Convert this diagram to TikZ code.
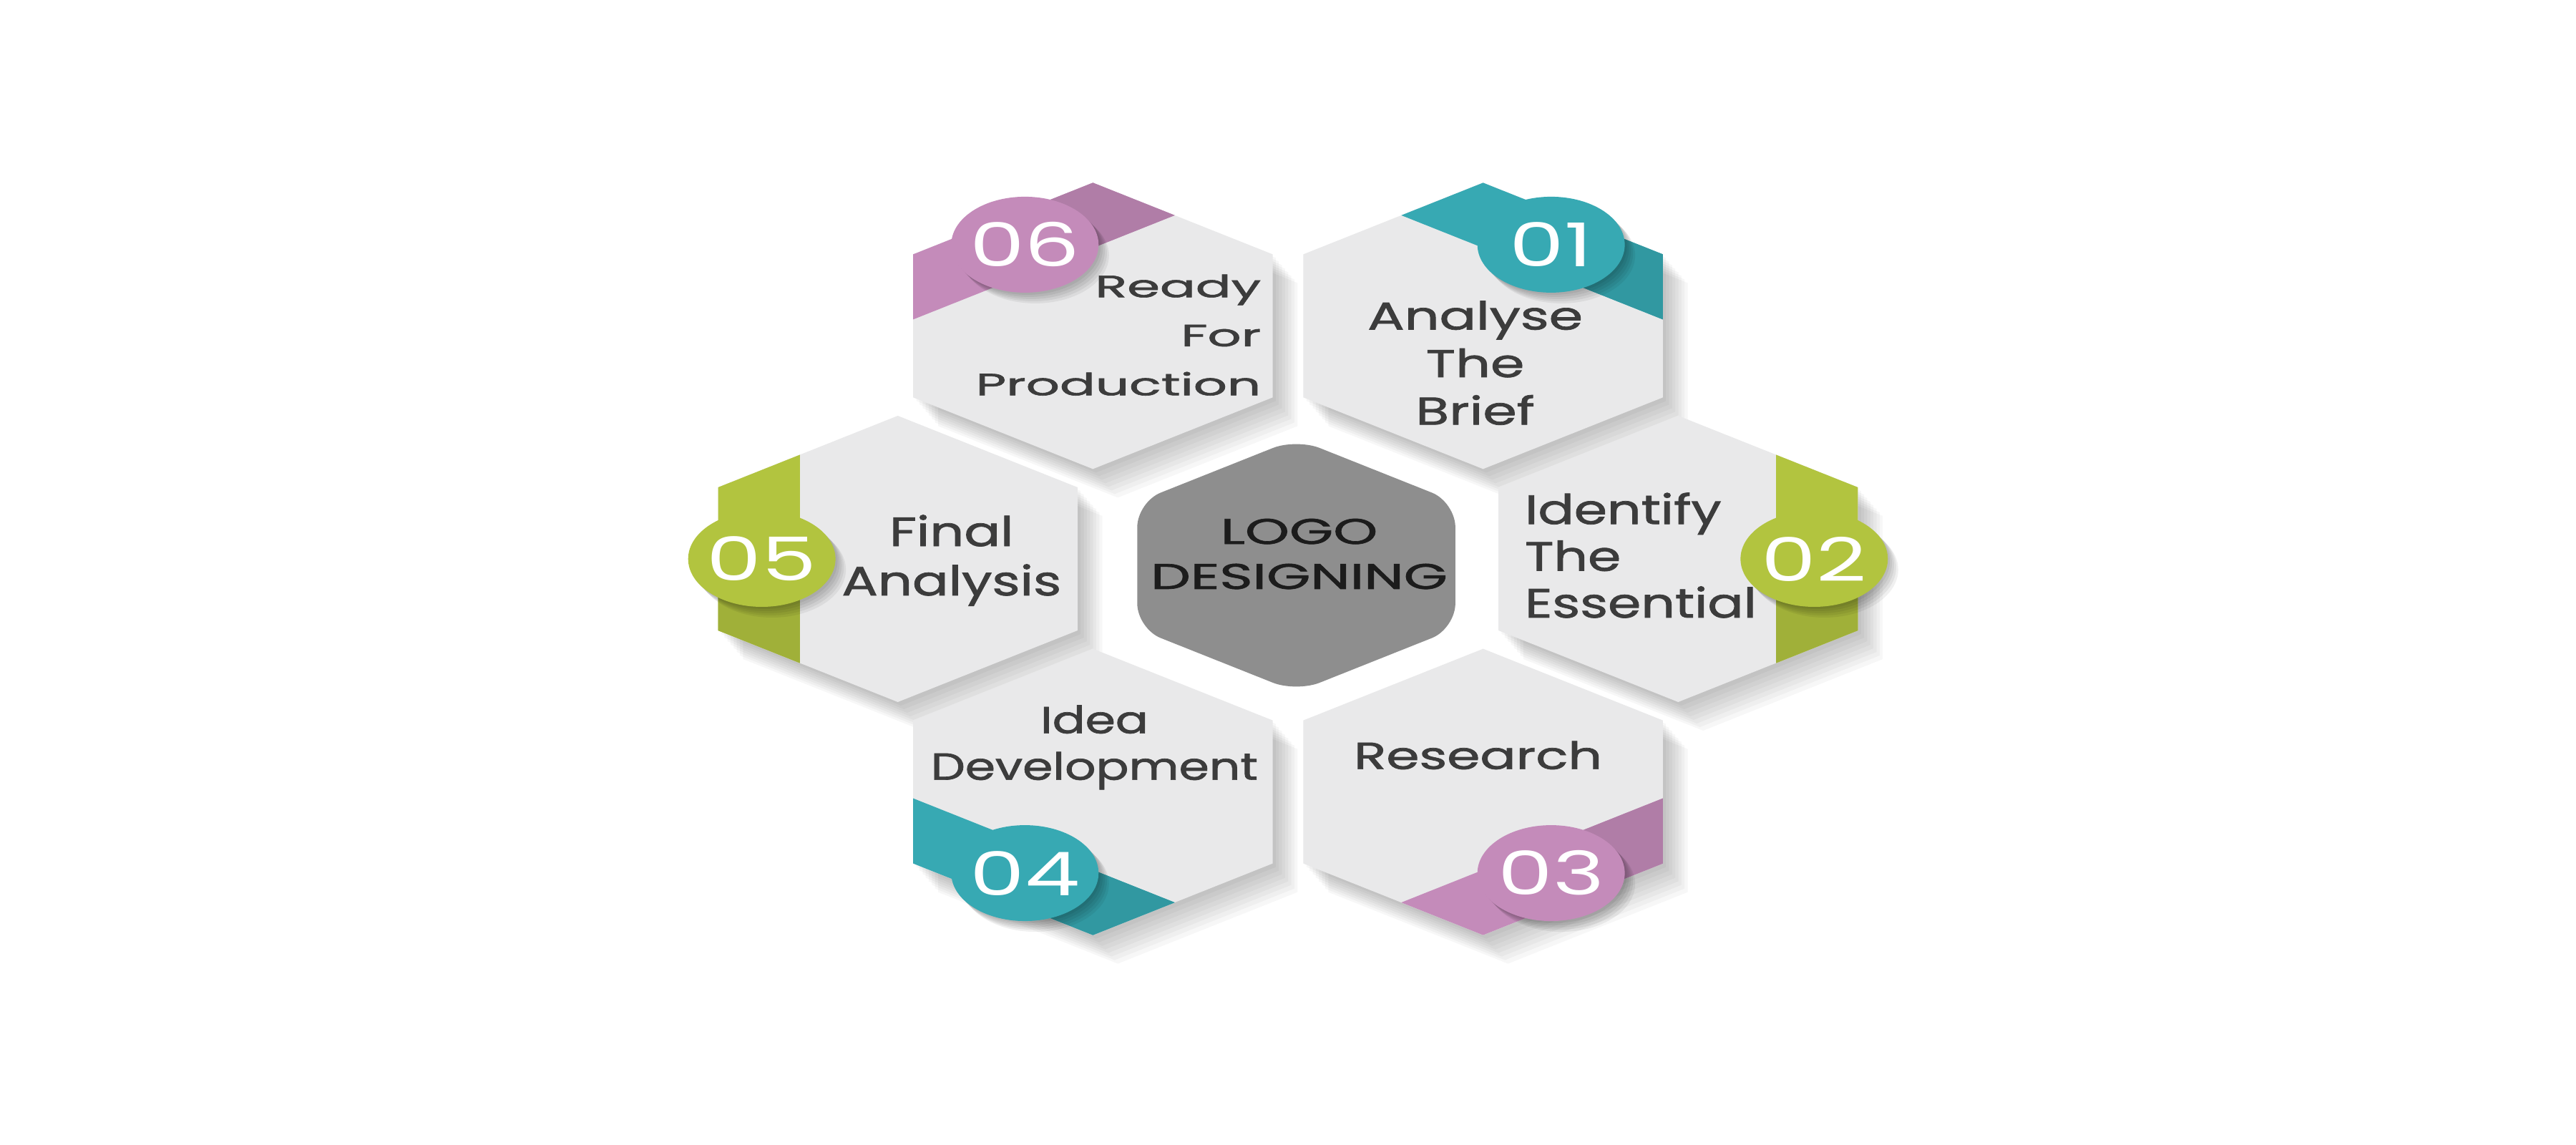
\documentclass[tikz,border=0pt]{standalone}
\usepackage{fontspec}
\setmainfont{Poppins}
\newfontfamily\labelfont{Poppins}[RawFeature={embolden=1.3}]
\usepackage{tikz}
\usetikzlibrary{calc}

\definecolor{facegray}{HTML}{E9E9EA}
\definecolor{coregray}{HTML}{8E8E8E}
\definecolor{tealtab}{HTML}{37A9B3}
\definecolor{greentab}{HTML}{B2C43F}
\definecolor{pinktab}{HTML}{C48BBA}
\definecolor{labelgray}{HTML}{3C3C3C}
\definecolor{coretext}{HTML}{1C1C1C}

\newcommand{\hexpath}[2]{(#1) +(90:#2) -- +(150:#2) -- +(210:#2) -- +(270:#2) -- +(330:#2) -- +(30:#2) -- cycle}

\begin{document}
\begin{tikzpicture}[
    softshade/.style={fill=black, opacity=0.03},
    steplabel/.style={text=labelgray, inner sep=0pt, xscale=#1},
    stepnumber/.style={text=white, inner sep=0pt, xscale=1.45, font=\fontsize{24}{24}\selectfont}]
\fill[white] (-18,7.81) rectangle (18,-8.19);
\useasboundingbox (-18,7.81) rectangle (18,-8.19);
\begin{scope}[xscale=1.45]
  \coordinate (core) at (0.08,-0.09);
  \foreach \nm/\ang in {h1/60, h2/0, h3/300, h4/240, h5/180, h6/120}{
    \coordinate (\nm) at (\ang:3.76);
    \coordinate (c\nm) at ($(\nm)+(\ang:1.31)$);
  }
  \foreach \nm in {h1,h2,h3,h4,h5,h6}
    \foreach \k in {1,...,8}
      \fill[softshade] \hexpath{$(\nm)+(0.03*\k,-0.05*\k)$}{2};
  \fill[coregray, rounded corners=10pt] \hexpath{core}{1.77};
  \foreach \nm/\ang/\col/\dk in {h1/60/tealtab/-30, h2/0/greentab/-30, h3/300/pinktab/30,
                                 h4/240/tealtab/30, h5/180/greentab/30, h6/120/pinktab/-30}{
    \fill[facegray] \hexpath{\nm}{2};
    \fill[\col] ($(\nm)+(\ang-30:2)$) -- ($(\nm)+(\ang+30:2)$) -- ($(\nm)+(\ang+30:2)+(\ang+150:0.91)$)
      -- ($(\nm)+(\ang-30:2)+(\ang-150:0.91)$) -- cycle;
    \fill[\col!90!black] ($(\nm)+(\ang:1.732)$) -- ($(\nm)+(\ang+\dk:2)$)
      -- ($(\nm)+(\ang+\dk:2)+(\ang+5*\dk:0.91)$) -- ($(\nm)+(\ang:0.944)$) -- cycle;
    \foreach \k in {1,...,5}
      \fill[softshade, opacity=0.06] ($(c\nm)+(0.02*\k,-0.03*\k)$) ellipse [x radius=0.71, y radius=0.67];
    \fill[\col] (c\nm) ellipse [x radius=0.71, y radius=0.67];
  }
\end{scope}

\node[stepnumber] (n1) at (ch1) {01};
\node[stepnumber] (n2) at (ch2) {02};
\node[stepnumber] (n3) at (ch3) {03};
\node[stepnumber] (n4) at (ch4) {04};
\node[stepnumber] (n5) at (ch5) {05};
\node[stepnumber] (n6) at (ch6) {06};

\node[steplabel=1.41, anchor=base, align=center, font=\labelfont\fontsize{15.4}{18.9}\selectfont] (t1) at ($(h1)+(-0.11,-1.38)$) {Analyse\\The\\Brief};
\node[steplabel=1.30, anchor=base west, align=left, font=\labelfont\fontsize{16.3}{18.6}\selectfont] (t2) at ($(h2)+(-2.15,-0.82)$) {Identify\\The\\Essential};
\node[steplabel=1.41, anchor=base, font=\labelfont\fontsize{15}{18.5}\selectfont] (t3) at ($(h3)+(-0.07,0.32)$) {Research};
\node[steplabel=1.29, anchor=base, align=center, font=\labelfont\fontsize{15}{18.5}\selectfont] (t4) at ($(h4)+(0.02,0.17)$) {Idea\\Development};
\node[steplabel=1.31, anchor=base, align=center, font=\labelfont\fontsize{16.3}{19.6}\selectfont] (t5) at ($(h5)+(0.75,-0.51)$) {Final\\Analysis};
\node[steplabel=1.72, anchor=base east, align=right, font=\labelfont\fontsize{12.2}{19.5}\selectfont] (t6) at ($(h6)+(2.36,-0.97)$) {Ready\\For\\Production};
\node[steplabel=1.58, text=coretext, anchor=base, align=center, font=\labelfont\fontsize{14.2}{17.9}\selectfont] (logo) at ($(core)+(0.04,-0.33)$) {LOGO\\DESIGNING};
\end{tikzpicture}
\end{document}
